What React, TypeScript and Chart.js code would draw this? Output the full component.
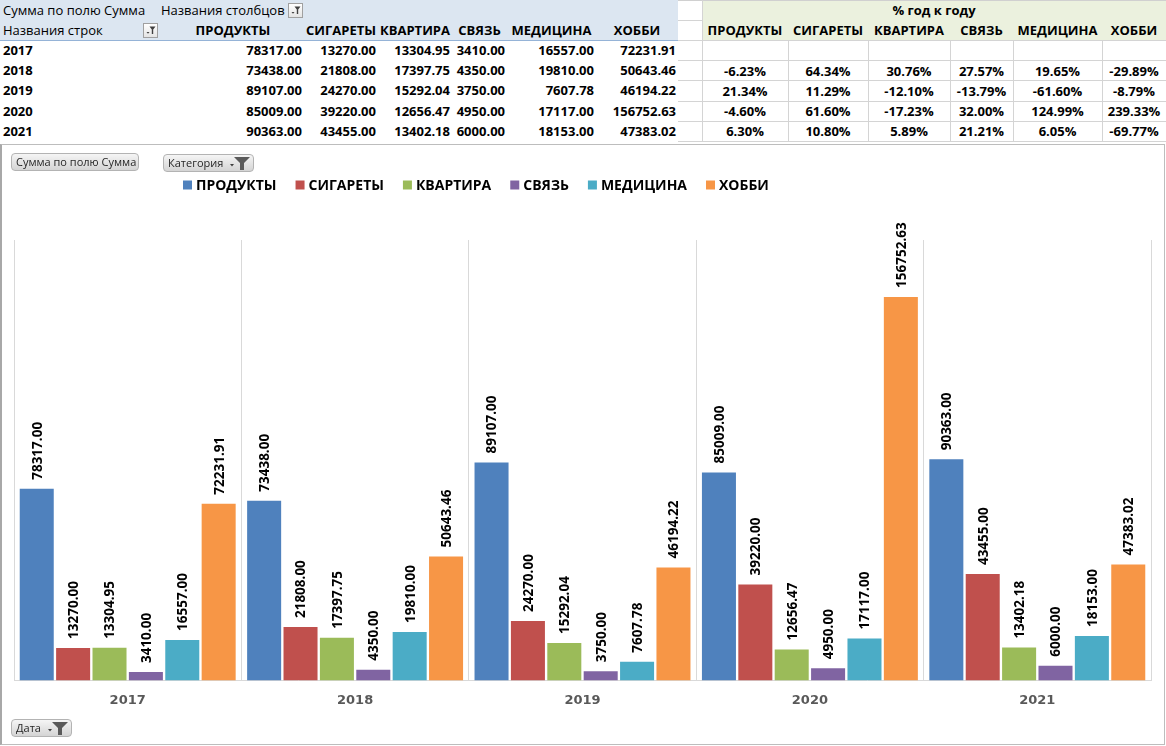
import React, { useEffect, useRef } from "react";
import { Chart, registerables } from "chart.js";

Chart.register(...registerables);

// ---------- DATA ----------
const years = ["2017", "2018", "2019", "2020", "2021"];
const categories = ["ПРОДУКТЫ", "СИГАРЕТЫ", "КВАРТИРА", "СВЯЗЬ", "МЕДИЦИНА", "ХОББИ"];
const produkty = [78317.0, 73438.0, 89107.0, 85009.0, 90363.0];
const sigarety = [13270.0, 21808.0, 24270.0, 39220.0, 43455.0];
const kvartira = [13304.95, 17397.75, 15292.04, 12656.47, 13402.18];
const svyaz = [3410.0, 4350.0, 3750.0, 4950.0, 6000.0];
const medicina = [16557.0, 19810.0, 7607.78, 17117.0, 18153.0];
const hobbi = [72231.91, 50643.46, 46194.22, 156752.63, 47383.02];
const seriesValues = [produkty, sigarety, kvartira, svyaz, medicina, hobbi];
const seriesColors = ["#4F81BD", "#C0504D", "#9BBB59", "#8064A2", "#4BACC6", "#F79646"];

// year-over-year table (rows 2017..2021)
const yoy2017 = ["", "", "", "", "", ""];
const yoy2018 = ["-6.23%", "64.34%", "30.76%", "27.57%", "19.65%", "-29.89%"];
const yoy2019 = ["21.34%", "11.29%", "-12.10%", "-13.79%", "-61.60%", "-8.79%"];
const yoy2020 = ["-4.60%", "61.60%", "-17.23%", "32.00%", "124.99%", "239.33%"];
const yoy2021 = ["6.30%", "10.80%", "5.89%", "21.21%", "6.05%", "-69.77%"];
const yoyRows = [yoy2017, yoy2018, yoy2019, yoy2020, yoy2021];

const yAxisMax = 180000;

// ---------- LAYOUT ----------
const FONT = '"Open Sans", "Noto Sans", sans-serif';
const leftEdges = [0, 162, 304, 378, 452, 507, 596, 678];
const rightEdges = [678, 702, 788, 868, 950, 1013, 1102, 1166];
const bodyTop = 40;
const rowH = 20.2;

const abs = (s: React.CSSProperties): React.CSSProperties => ({ position: "absolute", ...s });

function FilterBtn({ x, y }: { x: number; y: number }) {
  return (
    <div
      style={abs({
        left: x,
        top: y,
        width: 15,
        height: 15,
        boxSizing: "border-box",
        border: "1px solid #a0a0a0",
        background: "linear-gradient(#ffffff, #e4e4e4)",
      })}
    >
      <svg width="13" height="13" style={{ position: "absolute", left: 0, top: 0 }}>
        <path d="M2.5 8 L5.5 8 L4 9.8 Z" fill="#404040" />
        <path d="M5.5 2.5 H11.5 L9.2 5.5 V10 H7.8 V5.5 Z" fill="#404040" />
      </svg>
    </div>
  );
}

function PivotBtn({ x, y, w, text, funnel }: { x: number; y: number; w: number; text: string; funnel?: boolean }) {
  return (
    <div
      style={abs({
        left: x,
        top: y,
        width: w,
        height: 18,
        boxSizing: "border-box",
        borderRadius: 4,
        border: "1px solid #b3b3b3",
        background: "linear-gradient(#f5f5f5, #d4d4d4)",
        fontFamily: FONT,
        fontSize: 11,
        color: "#262626",
        lineHeight: "16px",
        paddingLeft: 4,
        whiteSpace: "nowrap",
      })}
    >
      {text}
      {funnel && (
        <svg width="24" height="16" style={{ position: "absolute", right: 1, top: 0 }}>
          <path d="M2 9 L6 9 L4 11.5 Z" fill="#404040" />
          <path d="M6 2 H22 L16 8 V15 H12 V8 Z" fill="#5a5a5a" />
        </svg>
      )}
    </div>
  );
}

function Tables() {
  const cells: React.ReactNode[] = [];
  cells.push(<div key="hb" style={abs({ left: 0, top: 0, width: 678, height: 40, background: "#DCE6F1" })} />);
  cells.push(<div key="hl" style={abs({ left: 0, top: 40, width: 678, height: 1, background: "#95B3D7" })} />);
  cells.push(<div key="gb" style={abs({ left: 702, top: 0, width: 464, height: 40, background: "#EBF1DE" })} />);
  cells.push(<div key="tl" style={abs({ left: 678, top: 0, width: 488, height: 1, background: "#d0d0d0" })} />);
  cells.push(<div key="l20" style={abs({ left: 678, top: 20, width: 24, height: 1, background: "#d4d4d4" })} />);
  for (let i = 0; i <= 5; i++) {
    const y = Math.round(bodyTop + i * rowH);
    cells.push(<div key={"rh" + i} style={abs({ left: 678, top: y, width: 488, height: 1, background: "#d4d4d4" })} />);
  }
  rightEdges.slice(1, 7).forEach((x, i) => {
    const top = i === 0 ? 0 : 40;
    cells.push(
      <div key={"rv" + i} style={abs({ left: x, top, width: 1, height: Math.round(bodyTop + 5 * rowH) - top, background: "#d4d4d4" })} />
    );
  });

  const txt = (
    key: string,
    left: number,
    top: number,
    width: number,
    h: number,
    text: string,
    align: "left" | "center" | "right",
    bold: boolean
  ) =>
    cells.push(
      <div
        key={key}
        style={abs({
          left,
          top,
          width,
          height: h,
          lineHeight: h + "px",
          textAlign: align,
          fontFamily: FONT,
          fontSize: 13,
          fontWeight: bold ? 700 : 400,
          color: "#000",
          whiteSpace: "nowrap",
          overflow: "visible",
        })}
      >
        {text}
      </div>
    );

  // left pivot table
  txt("h0a", 3, 0, 160, 20, "Сумма по полю Сумма", "left", false);
  txt("h0b", 161, 0, 130, 20, "Названия столбцов", "left", false);
  txt("h1a", 3, 20, 140, 20, "Названия строк", "left", false);
  categories.forEach((c, i) => {
    txt("hc" + i, leftEdges[i + 1], 20, leftEdges[i + 2] - leftEdges[i + 1], 20, c, "center", true);
  });
  years.forEach((yr, r) => {
    const top = bodyTop + r * rowH;
    txt("ry" + r, 3, top, 100, 20, yr, "left", true);
    seriesValues.forEach((vals, c) => {
      txt(
        "v" + r + "_" + c,
        leftEdges[c + 1],
        top,
        leftEdges[c + 2] - leftEdges[c + 1] - 2,
        20,
        vals[r].toFixed(2),
        "right",
        true
      );
    });
  });

  // right yoy table
  txt("yh", 702, 0, 464, 20, "% год к году", "center", true);
  categories.forEach((c, i) => {
    txt("yc" + i, rightEdges[i + 1], 20, rightEdges[i + 2] - rightEdges[i + 1], 20, c, "center", true);
  });
  yoyRows.forEach((row, r) => {
    const top = bodyTop + r * rowH;
    row.forEach((v, c) => {
      txt("y" + r + "_" + c, rightEdges[c + 1], top + 0.5, rightEdges[c + 2] - rightEdges[c + 1], 20, v, "center", true);
    });
  });

  cells.push(<FilterBtn key="f1" x={288} y={3} />);
  cells.push(<FilterBtn key="f2" x={143} y={23} />);
  return <>{cells}</>;
}

function BarChart() {
  const ref = useRef<HTMLCanvasElement | null>(null);
  useEffect(() => {
    if (!ref.current) return;
    const legendPlugin = {
      id: "customLegend",
      afterDraw(chart: any) {
        const ctx = chart.ctx;
        ctx.save();
        ctx.font = 'bold 14px "Open Sans"';
        ctx.textBaseline = "middle";
        ctx.textAlign = "left";
        let x = 183;
        const y = 39;
        chart.data.datasets.forEach((ds: any) => {
          ctx.fillStyle = ds.backgroundColor;
          ctx.fillRect(x, y - 4.5, 9, 9);
          ctx.fillStyle = "#000";
          ctx.fillText(ds.label, x + 13, y + 1);
          x += 13 + ctx.measureText(ds.label).width + 19;
        });
        ctx.restore();
      },
    };
    const valueLabels = {
      id: "barValueLabels",
      afterDatasetsDraw(chart: any) {
        const ctx = chart.ctx;
        ctx.save();
        ctx.font = 'bold 13.5px "Open Sans"';
        ctx.fillStyle = "#000";
        ctx.textAlign = "left";
        ctx.textBaseline = "middle";
        chart.data.datasets.forEach((ds: any, di: number) => {
          const meta = chart.getDatasetMeta(di);
          meta.data.forEach((el: any, i: number) => {
            const v = ds.data[i] as number;
            ctx.save();
            ctx.translate(el.x + 1, el.y - 9);
            ctx.rotate(-Math.PI / 2);
            ctx.fillText(v.toFixed(2), 0, 0);
            ctx.restore();
          });
        });
        ctx.restore();
      },
    };
    const chart = new Chart(ref.current, {
      type: "bar",
      data: {
        labels: years,
        datasets: categories.map((c, i) => ({
          label: c,
          data: seriesValues[i],
          backgroundColor: seriesColors[i],
          borderWidth: 0,
          categoryPercentage: 0.96,
          barPercentage: 0.935,
        })),
      },
      options: {
        animation: false,
        responsive: false,
        maintainAspectRatio: false,
        layout: { padding: { left: 14, right: 15, top: 94, bottom: 26 } },
        plugins: { legend: { display: false }, tooltip: { enabled: false } },
        scales: {
          x: {
            grid: { color: "#d9d9d9", drawTicks: false, offset: true },
            border: { color: "#d9d9d9" },
            ticks: {
              color: "#595959",
              font: { family: '"DejaVu Sans"', weight: "bold", size: 13 },
              padding: 12,
            },
          },
          y: { display: false, min: 0, max: yAxisMax },
        },
      },
      plugins: [legendPlugin, valueLabels],
    } as any);
    return () => chart.destroy();
  }, []);
  return (
    <canvas
      ref={ref}
      width={1166}
      height={600}
      style={{ position: "absolute", left: 0, top: 146, width: 1166, height: 600 }}
    />
  );
}

export default function App() {
  return (
    <div style={{ position: "fixed", left: 0, top: 0, width: 1166, height: 746, background: "#fff", overflow: "hidden" }}>
      <Tables />
      <div
        style={abs({
          left: 0,
          top: 144,
          width: 1165,
          height: 601,
          boxSizing: "border-box",
          border: "1px solid #bdbdbd",
          borderLeft: "2px solid #a8a8a8",
        })}
      />
      <BarChart />
      <PivotBtn x={11} y={153} w={128} text="Сумма по полю Сумма" />
      <PivotBtn x={163} y={154} w={91} text="Категория" funnel />
      <PivotBtn x={11} y={719} w={61} text="Дата" funnel />
    </div>
  );
}
